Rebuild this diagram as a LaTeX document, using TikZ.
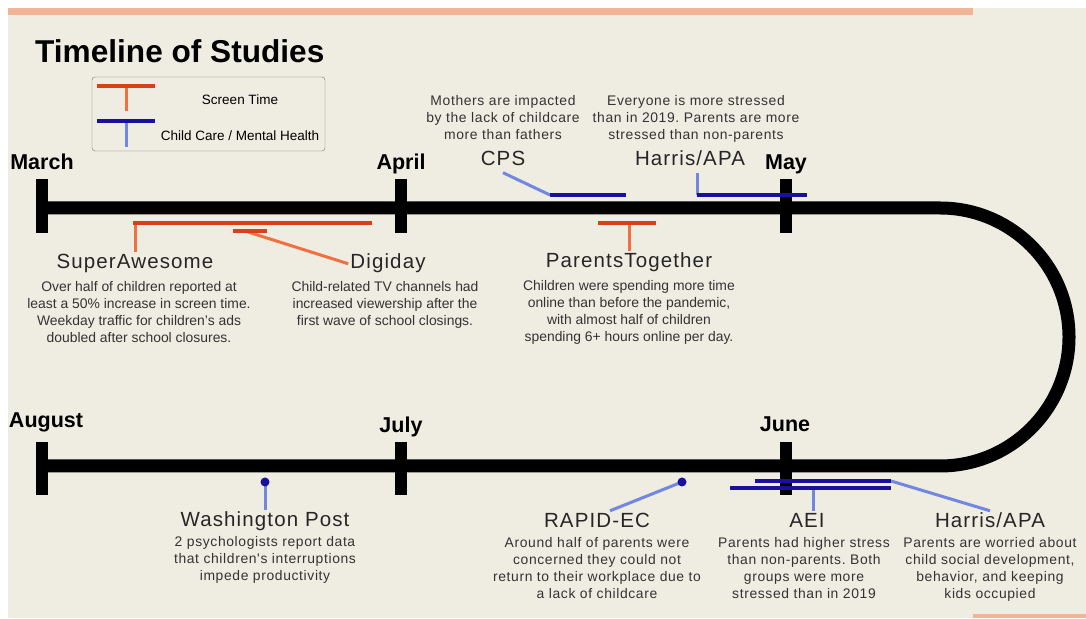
\documentclass[tikz,border=0pt]{standalone}
\usepackage{fontspec}
\setmainfont{Liberation Sans}
\newfontfamily\studyfont[LetterSpace=5.5]{Liberation Sans}
\newfontfamily\spacedfont[LetterSpace=4.5]{Liberation Sans}
\usetikzlibrary{positioning}
\frenchspacing

\definecolor{paper}{HTML}{EFECE1}
\definecolor{peach}{HTML}{F0B597}
\definecolor{screenred}{HTML}{D8401A}
\definecolor{screenorange}{HTML}{F07040}
\definecolor{careblue}{HTML}{1A10A0}
\definecolor{carelight}{HTML}{7088E0}
\definecolor{ink}{HTML}{333333}

\begin{document}
\begin{tikzpicture}[
  x=1pt, y=1pt,
  month/.style={anchor=base, inner sep=0pt, font=\bfseries\fontsize{21.5}{24}\selectfont},
  study/.style={anchor=base, inner sep=2pt, text height=15pt, text depth=4.5pt,
    text=black!85, font=\studyfont\fontsize{20.5}{24}\selectfont},
  note/.style={align=center, inner sep=2pt, text depth=3pt,
    text=ink, font=\fontsize{13.9}{17}\selectfont},
  spacednote/.style={note, font=\spacedfont\fontsize{13.9}{17}\selectfont},
  stbar/.style={screenred, line width=4pt},
  ststem/.style={screenorange, line width=3pt},
  ccbar/.style={careblue, line width=4pt},
  ccstem/.style={carelight, line width=3pt},
  tickmark/.style={line width=12pt},
  ccdot/.style={careblue, radius=4.5pt}
]
  % page and border strips
  \useasboundingbox (0,0) rectangle (1086,618);
  \fill[white] (0,0) rectangle (1086,618);
  \fill[paper] (8,0) rectangle (1086,610);
  \fill[peach] (8,603) rectangle (973,610);
  \fill[peach] (973,0) rectangle (1086,4);

  \node[anchor=base west, inner sep=0pt, font=\bfseries\fontsize{31.6}{36}\selectfont] (title) at (35,555) {Timeline of Studies};

  % legend
  \draw[black!55, rounded corners=3pt] (92,541) rectangle (325,467);
  \draw[ststem] (126,532) -- (126,507);
  \draw[stbar] (97,532) -- (155,532);
  \draw[ccstem] (126,497) -- (126,471);
  \draw[ccbar] (97,497) -- (155,497);
  \node[font=\fontsize{13.5}{16}\selectfont] (legst) at (240,518) {Screen Time};
  \node[font=\fontsize{13.5}{16}\selectfont] (legcc) at (240,482) {Child Care / Mental Health};

  % timeline
  \draw[line width=13pt] (42,410) -- (940,410) arc (90:-90:129) -- (42,152);
  \foreach \x in {42,401,786} {
    \draw[tickmark] (\x,439) -- (\x,385);
    \draw[tickmark] (\x,176) -- (\x,123);
  }
  \node[month] (march) at (42,448) {March};
  \node[month] (april) at (401,448) {April};
  \node[month] (may) at (786,448) {May};
  \node[month] (august) at (46,190) {August};
  \node[month] (july) at (401,185) {July};
  \node[month] (june) at (785,186) {June};

  % screen time studies
  \node[study] (supaw) at (135,349) {SuperAwesome};
  \node[note, below=4pt of supaw, xshift=4pt] (supawtxt) {Over half of children reported at\\least a 50\% increase in screen time.\\Weekday traffic for children’s ads\\doubled after school closures.};
  \coordinate (supawbar) at (135,395);
  \draw[ststem] (supawbar) -- (supaw.north);
  \draw[stbar] (133,395) -- (372,395);

  \node[study] (digi) at (388,349) {Digiday};
  \node[note, below=4pt of digi, xshift=-3pt] (digitxt) {Child-related TV channels had\\increased viewership after the\\first wave of school closings.};
  \coordinate (digibar) at (248,386);
  \draw[ststem] (digibar) -- (digi.west);
  \draw[stbar] (233,387) -- (267,387);

  \node[study] (ptog) at (629,350) {ParentsTogether};
  \node[note, below=4pt of ptog] (ptogtxt) {Children were spending more time\\online than before the pandemic,\\with almost half of children\\spending 6+ hours online per day.};
  \coordinate (ptogbar) at (629,395);
  \draw[ststem] (ptogbar) -- (ptog.north);
  \draw[stbar] (598,395) -- (656,395);

  % child care / mental health studies
  \node[study] (cps) at (503,452) {CPS};
  \node[spacednote, above=4pt of cps] (cpstxt) {Mothers are impacted\\by the lack of childcare\\more than fathers};
  \coordinate (cpsbar) at (550,423);
  \draw[ccstem] (cps.south) -- (cpsbar);
  \draw[ccbar] (cpsbar) -- (626,423);

  \node[study] (hapa) at (690,452) {Harris/APA};
  \node[spacednote, above=4pt of hapa, xshift=6pt] (hapatxt) {Everyone is more stressed\\than in 2019. Parents are more\\stressed than non-parents};
  \coordinate (hapabar) at (697,423);
  \draw[ccstem] (hapa.south -| hapabar) -- (hapabar);
  \draw[ccbar] (hapabar) -- (807,423);

  \node[study] (wapo) at (265,91) {Washington Post};
  \node[spacednote, below=0.5pt of wapo] (wapotxt) {2 psychologists report data\\that children's interruptions\\impede productivity};
  \coordinate (wapodot) at (265,136);
  \draw[ccstem] (wapodot) -- (wapo.north);
  \fill[ccdot] (wapodot) circle;

  \node[study] (rapid) at (597,90) {RAPID-EC};
  \node[spacednote, below=0.5pt of rapid] (rapidtxt) {Around half of parents were\\concerned they could not\\return to their workplace due to\\a lack of childcare};
  \coordinate (rapiddot) at (682,136);
  \draw[ccstem] (rapiddot) -- ([xshift=13pt]rapid.north);
  \fill[ccdot] (rapiddot) circle;

  \node[study] (aei) at (807,90) {AEI};
  \node[spacednote, below=0.5pt of aei, xshift=-3pt] (aeitxt) {Parents had higher stress\\than non-parents. Both\\groups were more\\stressed than in 2019};
  \coordinate (aeibar) at (813,130);
  \draw[ccstem] (aeibar) -- (aei.north -| aeibar);
  \draw[ccbar] (730,130) -- (891,130);

  \node[study] (hapb) at (990,90) {Harris/APA};
  \node[spacednote, below=0.5pt of hapb] (hapbtxt) {Parents are worried about\\child social development,\\behavior, and keeping\\kids occupied};
  \coordinate (hapbbar) at (891,137);
  \draw[ccstem] (hapbbar) -- (hapb.north);
  \draw[ccbar] (755,137) -- (hapbbar);
\end{tikzpicture}
\end{document}
